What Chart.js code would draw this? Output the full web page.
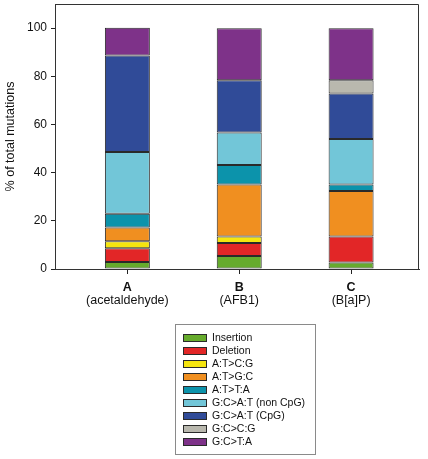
<!DOCTYPE html>
<html>
<head>
<meta charset="utf-8">
<script src="https://cdn.jsdelivr.net/npm/chart.js@4/dist/chart.umd.min.js"></script>
<style>
  html, body { margin: 0; padding: 0; background: #fff; }
  #wrap { width: 428px; height: 459px; position: relative; }
</style>
</head>
<body>
<div id="wrap"><canvas id="c" width="428" height="459"></canvas></div>
<script>
// ---- data ----
const categories = ["A", "B", "C"];
const categorySubLabels = ["(acetaldehyde)", "(AFB1)", "(B[a]P)"];
const seriesNames = ["Insertion", "Deletion", "A:T>C:G", "A:T>G:C", "A:T>T:A",
                     "G:C>A:T (non CpG)", "G:C>A:T (CpG)", "G:C>C:G", "G:C>T:A"];
const insertion   = [2.9, 5.4, 2.7];
const deletion    = [5.7, 5.4, 10.8];
const atToCG      = [2.9, 2.7, 0];
const atToGC      = [5.7, 21.6, 18.9];
const atToTA      = [5.7, 8.1, 2.7];
const gcToATnon   = [25.7, 13.5, 18.9];
const gcToATcpg   = [40.0, 21.6, 18.9];
const gcToCG      = [0, 0, 5.4];
const gcToTA      = [11.5, 21.6, 21.6];
const yTicks      = [0, 20, 40, 60, 80, 100];

const seriesValues = [insertion, deletion, atToCG, atToGC, atToTA, gcToATnon, gcToATcpg, gcToCG, gcToTA];
const colors = ["#66ab2c", "#e22627", "#f5e50f", "#f08f20", "#0c93ab",
                "#72c6d8", "#304b98", "#b9b8ae", "#7e3289"];

const FONT = "'Liberation Sans', Arial, sans-serif";

const datasets = seriesNames.map((name, i) => ({
  label: name,
  data: seriesValues[i].map((v, j) => ({ x: j + 1, y: v === 0 ? null : v })),
  backgroundColor: colors[i],
  borderColor: "#2a2a2a",
  borderWidth: 1,
  borderSkipped: false,
  barPercentage: 0.402,
  categoryPercentage: 1.0
}));

const framePlugin = {
  id: "frame",
  afterDraw(chart) {
    const ctx = chart.ctx;
    const a = chart.chartArea;
    ctx.save();
    ctx.strokeStyle = "#333";
    ctx.lineWidth = 1;
    ctx.beginPath();
    ctx.moveTo(a.left, a.top + 0.5);
    ctx.lineTo(a.right - 0.5, a.top + 0.5);
    ctx.lineTo(a.right - 0.5, a.bottom);
    ctx.stroke();

    // x category labels
    const xs = chart.scales.x;
    ctx.fillStyle = "#111";
    ctx.textAlign = "center";
    ctx.textBaseline = "middle";
    categories.forEach((c, i) => {
      const px = xs.getPixelForValue(i + 1);
      ctx.font = "bold 12.5px " + FONT;
      ctx.fillText(c, px, a.bottom + 19);
      ctx.font = "12.5px " + FONT;
      ctx.fillText(categorySubLabels[i], px, a.bottom + 32);
    });

    // legend box
    const lx = 175.5, ly = 324.5, lw = 140, lh = 130;
    ctx.strokeStyle = "#8a8a8a";
    ctx.strokeRect(lx, ly, lw, lh);
    ctx.font = "10.5px " + FONT;
    ctx.textAlign = "left";
    chart.data.datasets.forEach((ds, i) => {
      const cy = 338 + i * 13;
      ctx.fillStyle = ds.backgroundColor;
      ctx.fillRect(183, cy - 3.5, 24, 7);
      ctx.strokeStyle = "#2a2a2a";
      ctx.strokeRect(183.5, cy - 3.5, 23, 7);
      ctx.fillStyle = "#111";
      ctx.fillText(ds.label, 212, cy + 0.5);
    });
    ctx.restore();
  }
};

new Chart(document.getElementById("c"), {
  type: "bar",
  data: { datasets },
  plugins: [framePlugin],
  options: {
    responsive: false,
    animation: false,
    layout: { padding: { left: 0, top: 4, right: 9, bottom: 0 } },
    plugins: { legend: { display: false }, tooltip: { enabled: false } },
    scales: {
      x: {
        type: "linear",
        stacked: true,
        offset: false,
        min: 0.353,
        max: 3.607,
        afterBuildTicks(scale) { scale.ticks = categories.map((c, i) => ({ value: i + 1 })); },
        afterFit(scale) { scale.height = 190; scale.paddingLeft = 0; scale.paddingRight = 0; },
        ticks: { callback: () => "", padding: 0 },
        grid: { offset: false, drawOnChartArea: false, tickLength: 5, color: "#333", tickColor: "#222", tickWidth: 1 },
        border: { color: "#333", width: 1 }
      },
      y: {
        stacked: true,
        min: 0,
        max: 110,
        afterBuildTicks(scale) { scale.ticks = yTicks.map(v => ({ value: v })); },
        afterFit(scale) { scale.width = 55; scale.paddingTop = 0; scale.paddingBottom = 0; },
        ticks: { color: "#111", font: { family: FONT, size: 12 }, padding: 4 },
        grid: { drawOnChartArea: false, drawTicks: true, tickLength: 4, color: "#333", tickColor: "#222" },
        border: { color: "#333", width: 1 },
        title: {
          display: true,
          text: "% of total mutations",
          color: "#111",
          font: { family: FONT, size: 12.5 },
          padding: { top: 3, bottom: 0 }
        }
      }
    }
  }
});
</script>
</body>
</html>
